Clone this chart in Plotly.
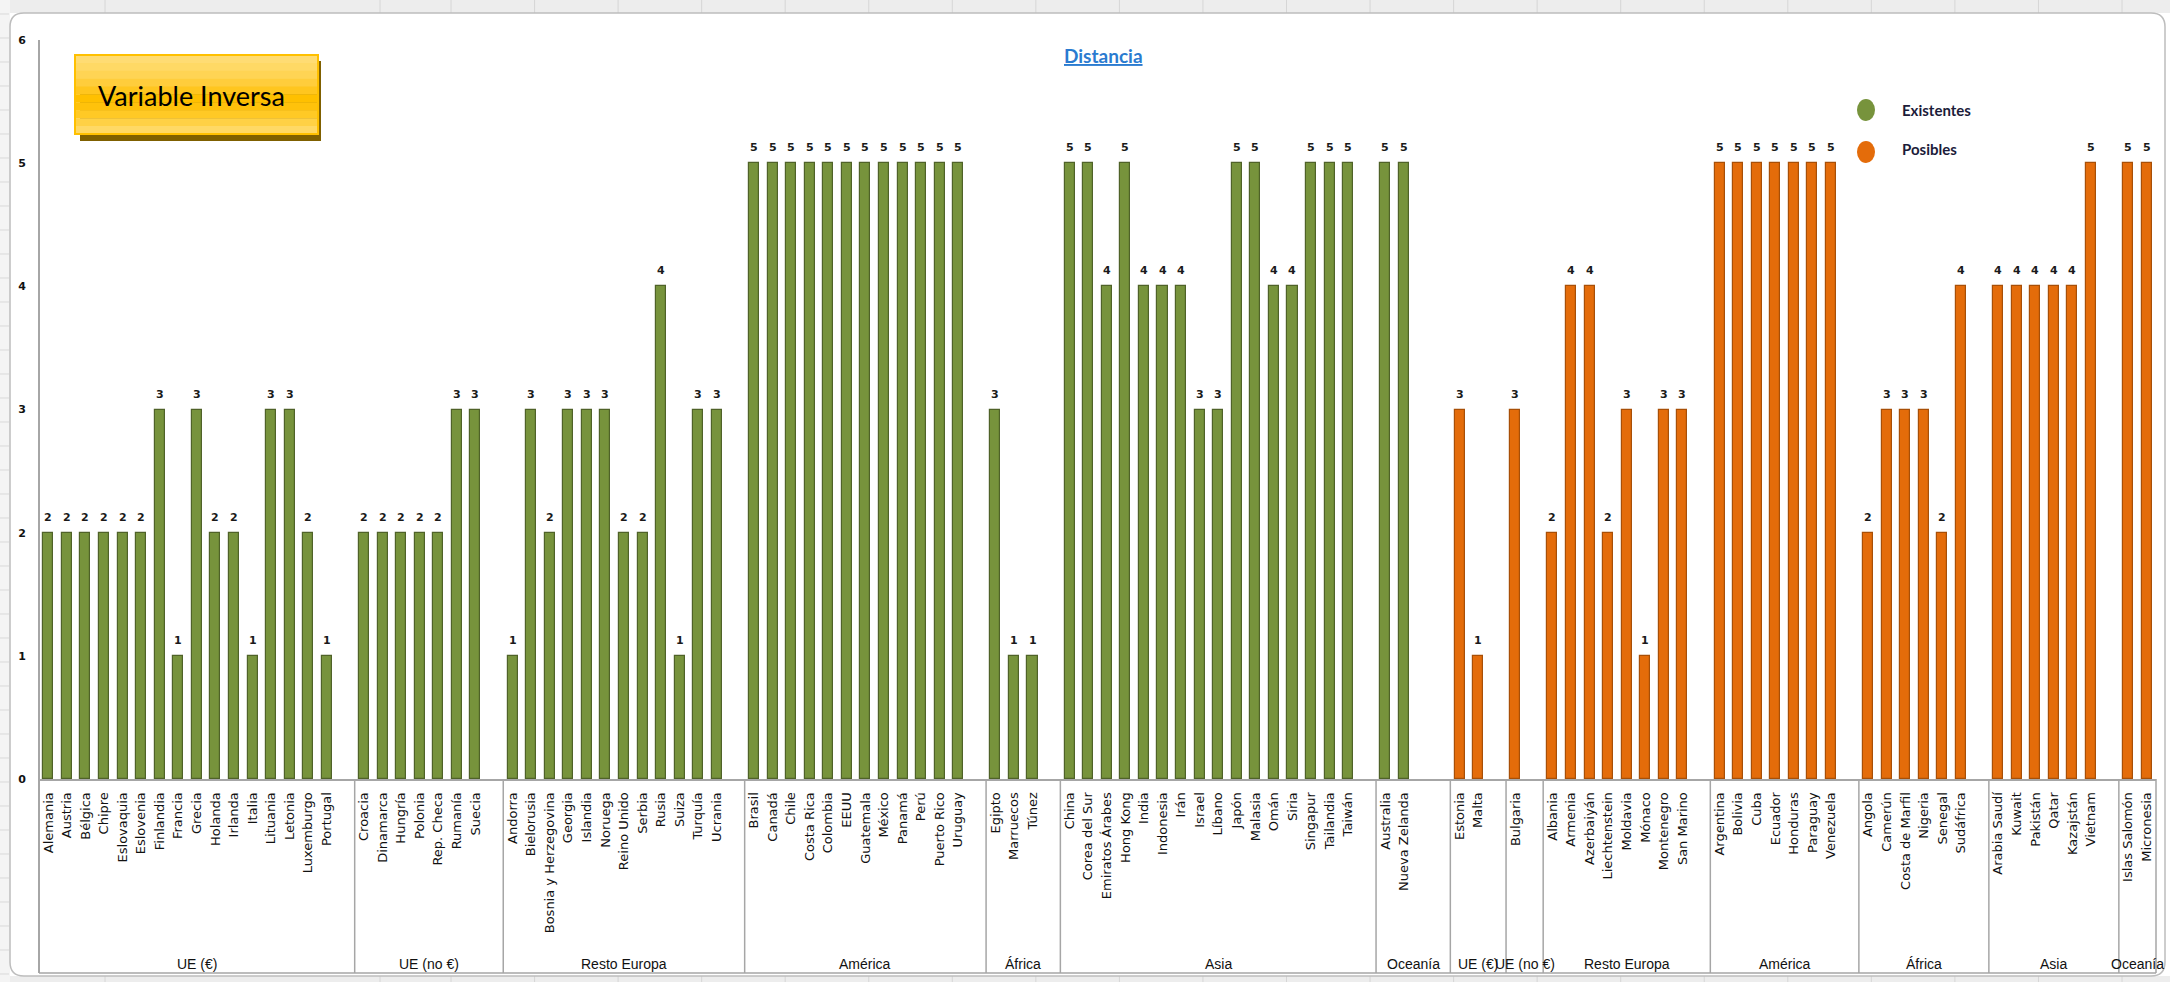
import plotly.graph_objects as go

# ---------------- data ----------------
grupos = ["UE (€)", "UE (no €)", "Resto Europa", "América", "África", "Asia", "Oceanía"]

existentes_paises = [
    ["Alemania", "Austria", "Bélgica", "Chipre", "Eslovaquia", "Eslovenia", "Finlandia", "Francia",
     "Grecia", "Holanda", "Irlanda", "Italia", "Lituania", "Letonia", "Luxemburgo", "Portugal"],
    ["Croacia", "Dinamarca", "Hungría", "Polonia", "Rep. Checa", "Rumanía", "Suecia"],
    ["Andorra", "Bielorusia", "Bosnia y Herzegovina", "Georgia", "Islandia", "Noruega", "Reino Unido",
     "Serbia", "Rusia", "Suiza", "Turquía", "Ucrania"],
    ["Brasil", "Canadá", "Chile", "Costa Rica", "Colombia", "EEUU", "Guatemala", "México", "Panamá",
     "Perú", "Puerto Rico", "Uruguay"],
    ["Egipto", "Marruecos", "Túnez"],
    ["China", "Corea del Sur", "Emiratos Árabes", "Hong Kong", "India", "Indonesia", "Irán", "Israel",
     "Líbano", "Japón", "Malasia", "Omán", "Siria", "Singapur", "Tailandia", "Taiwán"],
    ["Australia", "Nueva Zelanda"],
]
existentes_valores = [
    [2, 2, 2, 2, 2, 2, 3, 1, 3, 2, 2, 1, 3, 3, 2, 1],
    [2, 2, 2, 2, 2, 3, 3],
    [1, 3, 2, 3, 3, 3, 2, 2, 4, 1, 3, 3],
    [5, 5, 5, 5, 5, 5, 5, 5, 5, 5, 5, 5],
    [3, 1, 1],
    [5, 5, 4, 5, 4, 4, 4, 3, 3, 5, 5, 4, 4, 5, 5, 5],
    [5, 5],
]

posibles_paises = [
    ["Estonia", "Malta"],
    ["Bulgaria"],
    ["Albania", "Armenia", "Azerbaiyán", "Liechtenstein", "Moldavia", "Mónaco", "Montenegro", "San Marino"],
    ["Argentina", "Bolivia", "Cuba", "Ecuador", "Honduras", "Paraguay", "Venezuela"],
    ["Angola", "Camerún", "Costa de Marfil", "Nigeria", "Senegal", "Sudáfrica"],
    ["Arabia Saudí", "Kuwait", "Pakistán", "Qatar", "Kazajstán", "Vietnam"],
    ["Islas Salomón", "Micronesia"],
]
posibles_valores = [
    [3, 1],
    [3],
    [2, 4, 4, 2, 3, 1, 3, 3],
    [5, 5, 5, 5, 5, 5, 5],
    [2, 3, 3, 3, 2, 4],
    [4, 4, 4, 4, 4, 5],
    [5, 5],
]

series = [
    ("Existentes", existentes_paises, existentes_valores, "#77933C", "#4F6228"),
    ("Posibles", posibles_paises, posibles_valores, "#E46C0A", "#A84F07"),
]

# ---------------- slot layout (one blank slot after every group) ----------------
slot = 0
tick_vals, tick_text = [], []
group_spans = []          # (label, first_slot, end_slot)
bar_data = []             # per series: (name, xs, ys, fill, edge)
for s_idx, (name, paises, valores, fill, edge) in enumerate(series):
    xs, ys = [], []
    for g_idx, (grupo, nombres, vals) in enumerate(zip(grupos, paises, valores)):
        start = slot
        for n, v in zip(nombres, vals):
            xs.append(slot)
            ys.append(v)
            tick_vals.append(slot)
            tick_text.append(n)
            slot += 1
        last_series = s_idx == len(series) - 1
        last_group = g_idx == len(grupos) - 1
        if not (last_series and last_group):
            slot += 1
        if last_group and not last_series:
            slot += 1
        group_spans.append((grupo, start, slot))
    bar_data.append((name, xs, ys, fill, edge))
n_slots = slot

# ---------------- pixel frame ----------------
W, H = 2170, 982
L, R, T, B = 39, 2156, 40, 779


def px_x(px):
    return (px - L) / (R - L)


def px_y(py):
    return (B - py) / (B - T)


fig = go.Figure()
annotations = []
shapes = []

for name, xs, ys, fill, edge in bar_data:
    fig.add_trace(go.Bar(
        x=xs, y=ys, name=name, width=0.54,
        marker=dict(color=fill, line=dict(color=edge, width=1.2)),
        showlegend=False, hoverinfo="skip",
    ))
    for x, v in zip(xs, ys):
        annotations.append(dict(
            x=x, y=v, xref="x", yref="y", text=str(v), showarrow=False,
            xanchor="center", yanchor="bottom", yshift=7,
            font=dict(family="DejaVu Sans", size=11, color="#1a1a1a", weight="bold"),
        ))

# ---------------- Excel window background ----------------
grey_strip = "#EDEDED"
shapes += [
    dict(type="rect", xref="paper", yref="paper", x0=px_x(0), x1=px_x(W), y0=px_y(0), y1=px_y(13),
         fillcolor=grey_strip, line=dict(width=0), layer="below"),
    dict(type="rect", xref="paper", yref="paper", x0=px_x(0), x1=px_x(W), y0=px_y(976), y1=px_y(H),
         fillcolor=grey_strip, line=dict(width=0), layer="below"),
    dict(type="rect", xref="paper", yref="paper", x0=px_x(0), x1=px_x(10), y0=px_y(0), y1=px_y(H),
         fillcolor="#F4F4F4", line=dict(width=0), layer="below"),
]
col_lines = [105, 380] + [451 + k * 83.55 for k in range(21)]
for cx in col_lines:
    shapes.append(dict(type="line", xref="paper", yref="paper", x0=px_x(cx), x1=px_x(cx),
                       y0=px_y(0), y1=px_y(13), line=dict(color="#D6D6D6", width=1), layer="below"))
    shapes.append(dict(type="line", xref="paper", yref="paper", x0=px_x(cx), x1=px_x(cx),
                       y0=px_y(976), y1=px_y(H), line=dict(color="#D6D6D6", width=1), layer="below"))
for ry in range(14, 976, 24):
    shapes.append(dict(type="line", xref="paper", yref="paper", x0=px_x(0), x1=px_x(9),
                       y0=px_y(ry), y1=px_y(ry), line=dict(color="#D9D9D9", width=1), layer="below"))

# rounded chart frame
fx0, fy0, fx1, fy1, rr = 10, 13, 2165, 976, 14
path = (f"M {px_x(fx0 + rr)},{px_y(fy0)} L {px_x(fx1 - rr)},{px_y(fy0)} "
        f"Q {px_x(fx1)},{px_y(fy0)} {px_x(fx1)},{px_y(fy0 + rr)} "
        f"L {px_x(fx1)},{px_y(fy1 - rr)} Q {px_x(fx1)},{px_y(fy1)} {px_x(fx1 - rr)},{px_y(fy1)} "
        f"L {px_x(fx0 + rr)},{px_y(fy1)} Q {px_x(fx0)},{px_y(fy1)} {px_x(fx0)},{px_y(fy1 - rr)} "
        f"L {px_x(fx0)},{px_y(fy0 + rr)} Q {px_x(fx0)},{px_y(fy0)} {px_x(fx0 + rr)},{px_y(fy0)} Z")
shapes.append(dict(type="path", xref="paper", yref="paper", path=path,
                   fillcolor="white", line=dict(color="#BDBDBD", width=1.5), layer="below"))

# ---------------- category axis frame: group dividers and labels ----------------
axis_grey = "#A6A6A6"
shapes.append(dict(type="line", xref="paper", yref="paper", x0=0, x1=1, y0=px_y(973), y1=px_y(973),
                   line=dict(color=axis_grey, width=1.5)))
shapes.append(dict(type="line", xref="paper", yref="paper", x0=0, x1=0, y0=px_y(973), y1=1,
                   line=dict(color=axis_grey, width=2)))
shapes.append(dict(type="line", xref="paper", yref="paper", x0=1, x1=1, y0=px_y(973), y1=0,
                   line=dict(color=axis_grey, width=1.5)))
for grupo, start, end in group_spans:
    if start > 0:
        shapes.append(dict(type="line", xref="x", yref="paper", x0=start - 0.5, x1=start - 0.5,
                           y0=px_y(973), y1=0, line=dict(color=axis_grey, width=1.5)))
    annotations.append(dict(
        x=(start + end - 1) / 2, y=px_y(964), xref="x", yref="paper", text=grupo, showarrow=False,
        xanchor="center", yanchor="middle",
        font=dict(family="Liberation Sans Narrow, Liberation Sans", size=14, color="#111111"),
    ))

# ---------------- title ----------------
annotations.append(dict(
    x=px_x(1103), y=px_y(55), xref="paper", yref="paper", showarrow=False,
    xanchor="center", yanchor="middle",
    text="<b><u>Distancia</u></b>", font=dict(family="Lato", size=19, color="#2A7BD0"),
))

# ---------------- "Variable Inversa" box ----------------
bx0, by0, bx1, by1 = 75, 55, 318, 134
shapes.append(dict(type="rect", xref="paper", yref="paper", x0=px_x(bx0 + 5), x1=px_x(bx1 + 3),
                   y0=px_y(by1 + 7), y1=px_y(by0 + 6), fillcolor="#7F6000", line=dict(width=0)))
band_cols = ["#FFDC73", "#FFD965", "#FFD454", "#FFCD3C", "#FFC61F", "#FFC000",
             "#FFC20B", "#FFC925", "#FFD145", "#FFD965"]
nb = len(band_cols)
for i, c in enumerate(band_cols):
    y_top = by0 + (by1 - by0) * i / nb
    y_bot = by0 + (by1 - by0) * (i + 1) / nb
    shapes.append(dict(type="rect", xref="paper", yref="paper", x0=px_x(bx0), x1=px_x(bx1),
                       y0=px_y(y_bot) - 0.0005, y1=px_y(y_top), fillcolor=c, line=dict(width=0)))
shapes.append(dict(type="rect", xref="paper", yref="paper", x0=px_x(bx0), x1=px_x(bx1),
                   y0=px_y(by1), y1=px_y(by0), line=dict(color="#FFC000", width=2)))
annotations.append(dict(
    x=px_x(191), y=px_y(95), xref="paper", yref="paper", showarrow=False, text="Variable Inversa",
    xanchor="center", yanchor="middle",
    font=dict(family="Lato", size=27, color="#000000"),
))

# ---------------- legend ----------------
for (name, _, _, fill, _), cy in zip(bar_data, [110, 152]):
    shapes.append(dict(type="circle", xref="paper", yref="paper",
                       x0=px_x(1857), x1=px_x(1875), y0=px_y(cy + 11), y1=px_y(cy - 11),
                       fillcolor=fill, line=dict(width=0)))
for name, cy in zip(["Existentes", "Posibles"], [110, 149]):
    annotations.append(dict(
        x=px_x(1900), y=px_y(cy), xref="paper", yref="paper", showarrow=False, text=name,
        xanchor="left", yanchor="middle",
        font=dict(family="Lato", size=15, color="#1C1C3A", weight="bold"),
    ))

fig.update_layout(
    width=W, height=H,
    margin=dict(l=L, r=W - R, t=T, b=H - B, autoexpand=False),
    paper_bgcolor="white", plot_bgcolor="white",
    barmode="overlay", bargap=0,
    shapes=shapes, annotations=annotations,
    showlegend=False,
    xaxis=dict(
        range=[-0.5, n_slots - 0.5], tickmode="array", tickvals=tick_vals, ticktext=tick_text,
        tickangle=-90, ticks="", showgrid=False, zeroline=False, showline=True,
        linecolor=axis_grey, linewidth=2, automargin=False, ticklabelstandoff=6,
        tickfont=dict(family="DejaVu Sans", size=13, color="#111111"),
    ),
    yaxis=dict(
        range=[0, 6], tickvals=[0, 1, 2, 3, 4, 5, 6], ticks="", showgrid=False, zeroline=False,
        showline=False, automargin=False, ticklabelstandoff=12,
        tickfont=dict(family="DejaVu Sans", size=11, color="#111111", weight="bold"),
    ),
)

fig.write_html("out.html", config={"displayModeBar": False})
